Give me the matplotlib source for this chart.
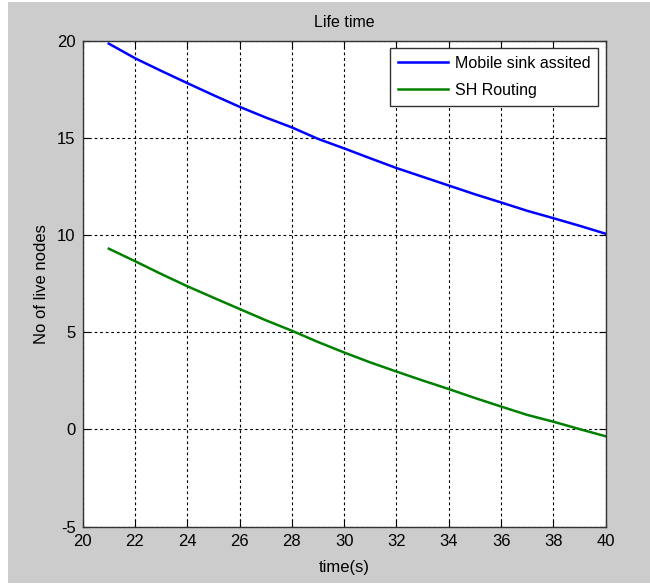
import matplotlib
matplotlib.use("Agg")
import matplotlib.pyplot as plt
import matplotlib.patches as patches

# data
time_s = [21, 22, 23, 24, 25, 26, 27, 28, 29, 30,
          31, 32, 33, 34, 35, 36, 37, 38, 39, 40]
mobile_sink = [19.85, 19.1, 18.45, 17.82, 17.2, 16.6, 16.05, 15.54, 14.95, 14.46,
               13.95, 13.45, 13.0, 12.55, 12.1, 11.68, 11.25, 10.87, 10.48, 10.07]
sh_routing = [9.3, 8.66, 8.0, 7.37, 6.78, 6.2, 5.62, 5.08, 4.5, 3.96,
              3.45, 2.98, 2.52, 2.08, 1.62, 1.18, 0.75, 0.4, 0.02, -0.35]
series_names = ["Mobile sink assited", "SH Routing"]
x_ticks = list(range(20, 41, 2))
y_ticks = list(range(-5, 21, 5))

plt.rcParams['font.family'] = ['Liberation Sans', 'DejaVu Sans']
plt.rcParams['font.size'] = 11
plt.rcParams['axes.unicode_minus'] = False

fig = plt.figure(figsize=(6.5, 5.85), dpi=100, facecolor='white')
# matlab-like grey figure panel, kept behind the axes
fig.patches.append(patches.Rectangle((8 / 650, 2 / 585), 642 / 650, 581 / 585,
                                     transform=fig.transFigure, facecolor='#cccccc',
                                     edgecolor='none', zorder=-10))

ax = fig.add_axes([0.1272, 0.0997, 0.8046, 0.8307])
ax.set_facecolor('white')

ax.plot(time_s, mobile_sink, color='#0000ff', lw=1.8, label=series_names[0])
ax.plot(time_s, sh_routing, color='#008000', lw=1.8, label=series_names[1])

ax.set_xlim(20, 40)
ax.set_ylim(-5, 20)
ax.set_xticks(x_ticks)
ax.set_yticks(y_ticks)
ax.tick_params(direction='in', top=True, right=True, length=5, width=0.8,
               labelsize=12, colors='black', pad=5)
ax.grid(True, color='black', linestyle=(0, (2.5, 2.5)), lw=0.8)
for s in ax.spines.values():
    s.set_color('#333333')
    s.set_linewidth(1.0)

ax.set_title("Life time", fontsize=11.5, pad=10)
ax.set_xlabel("time(s)", fontsize=12, labelpad=8)
ax.set_ylabel("No of live nodes", fontsize=12, labelpad=6)

leg = ax.legend(loc='upper right', fontsize=11.5, fancybox=False, framealpha=1,
                edgecolor='#333333', handlelength=3.1, handletextpad=0.45,
                borderpad=0.5, labelspacing=0.75, borderaxespad=0.45)
leg.get_frame().set_linewidth(1.0)

fig.savefig("out.png", dpi=100, facecolor=fig.get_facecolor())
